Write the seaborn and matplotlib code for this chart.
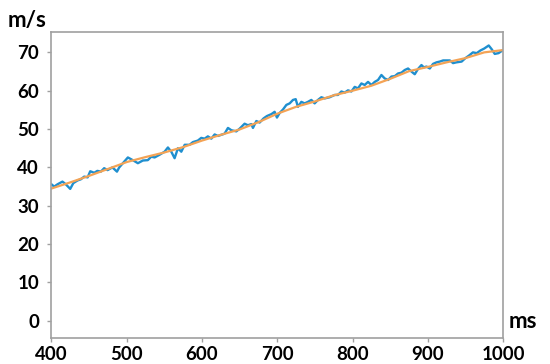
import matplotlib
matplotlib.use("Agg")
import matplotlib.pyplot as plt
import seaborn as sns
import pandas as pd

# measured (noisy) speed, blue
raw_ms = [400, 403.6, 408, 414.6, 419, 424.9, 429, 434.6, 439, 443.5, 448, 451.5, 456.8, 461,
          465.6, 470, 474.5, 481, 487, 490, 496.7,
          501.5, 508, 514.8, 521.4, 528, 532.6, 537, 543.6, 550.3, 554.7, 559.2, 563.6, 568,
          572.5, 577, 583.5, 587.9, 594.5,
          599, 603.5, 607.8, 612.4, 616.8, 621.1, 625.7, 630, 634.5, 639, 645.6, 650, 656.6,
          661, 665.6, 667.7, 672.2, 676.6, 681.9, 686.3,
          692.2, 696.5, 699.6, 703.2, 707.6, 712.1, 716.5, 720.9, 724.5, 727.5, 732, 736.4,
          740.8, 745.3, 749.7, 754.1, 758.6, 763, 769.7, 776.3,
          780.7, 785.2, 789.6, 794, 798.5, 802.9, 807.3, 811.8, 816.2, 820.6, 825.1, 829.5,
          833.9, 838.4, 842.8, 847.2, 851.7, 856.1, 860.5, 865, 869.4,
          873.8, 878.3, 882.7, 887.1, 891.6, 894.7, 898.3, 902.7, 907, 911.6, 916, 920.4,
          924.9, 929.3, 933.6, 938,
          945, 950, 955, 960, 965, 970, 975, 981, 985, 989, 994, 1000]
raw_v = [35.6, 35.0, 35.6, 36.3, 35.6, 34.4, 35.9, 36.6, 36.9, 37.6, 37.4, 39.0, 38.6, 39.1,
         38.9, 39.8, 39.3, 40.0, 38.9, 40.0, 41.5,
         42.6, 41.9, 41.1, 41.8, 41.9, 42.8, 42.6, 43.3, 44.1, 45.2, 44.1, 42.4, 45.0,
         44.1, 45.9, 45.9, 46.6, 47.0,
         47.7, 47.5, 48.1, 47.5, 48.6, 48.2, 48.5, 48.8, 50.3, 49.7, 49.4, 50.1, 51.4,
         51.0, 51.3, 50.3, 52.1, 51.7, 52.8, 53.4,
         53.9, 54.5, 53.0, 54.2, 55.1, 56.3, 56.7, 57.6, 57.8, 55.8, 57.1, 56.7,
         57.1, 57.6, 56.7, 57.6, 58.3, 58.0, 58.3, 58.9,
         58.9, 59.8, 59.5, 60.1, 59.8, 61.0, 60.6, 61.9, 61.5, 62.3, 61.5, 62.3,
         62.8, 64.1, 63.2, 62.8, 63.7, 63.8, 64.5, 64.7, 65.4,
         65.8, 65.0, 64.3, 65.7, 66.7, 66.1, 66.3, 65.8, 67.0, 67.4, 67.6, 67.9,
         67.9, 67.9, 67.2, 67.4,
         67.6, 68.5, 69.2, 70.0, 69.8, 70.5, 71.0, 71.8, 70.8, 69.6, 69.8, 70.6]

# smoothed speed, orange
fit_ms = [400, 425, 450, 475, 500, 525, 550, 575, 600, 625, 650, 675, 700, 725, 750, 775,
          800, 825, 850, 875, 900, 925, 950, 975, 1000]
fit_v = [34.5, 36.1, 37.8, 39.6, 41.4, 42.7, 43.9, 45.3, 47.0, 48.5, 49.9, 51.8, 54.0, 55.8,
         57.2, 58.8, 60.0, 61.3, 63.1, 65.1, 66.2, 67.4, 68.5, 70.0, 70.6]

x_ticks = [400, 500, 600, 700, 800, 900, 1000]
y_ticks = [0, 10, 20, 30, 40, 50, 60, 70]

sns.set_style("white")
plt.rcParams['font.family'] = ['Lato', 'DejaVu Sans']

df_raw = pd.DataFrame({"t": raw_ms, "v": raw_v})
df_fit = pd.DataFrame({"t": fit_ms, "v": fit_v})

fig = plt.figure(figsize=(5.5, 3.64), dpi=100)
ax = fig.add_axes([0.0936, 0.0723, 0.821, 0.8407])

sns.lineplot(data=df_raw, x="t", y="v", ax=ax, color="#1f8fcf", linewidth=1.7)
sns.lineplot(data=df_fit, x="t", y="v", ax=ax, color="#f4a355", linewidth=1.6)

ax.set_xlim(400, 1000)
ax.set_ylim(-4.4, 75.4)
ax.set_xticks(x_ticks)
ax.set_yticks(y_ticks)
ax.set_xlabel("")
ax.set_ylabel("")
for s in ax.spines.values():
    s.set_color("#a0a0a0")
    s.set_linewidth(1.2)
ax.tick_params(axis="both", which="both", length=3, width=1, color="#a0a0a0",
               labelsize=13.5, labelcolor="black", direction="out", bottom=True, left=True)
ax.tick_params(axis="y", pad=6)
ax.tick_params(axis="x", pad=3)
for lab in ax.get_xticklabels() + ax.get_yticklabels():
    lab.set_fontweight("bold")

fig.text(8 / 550, 1 - 20 / 364, "m/s", fontsize=16, fontweight="bold", color="black",
         ha="left", va="center")
fig.text(509 / 550, 1 - 321 / 364, "ms", fontsize=16, fontweight="bold", color="black",
         ha="left", va="center")

fig.savefig("out.png", dpi=100)
